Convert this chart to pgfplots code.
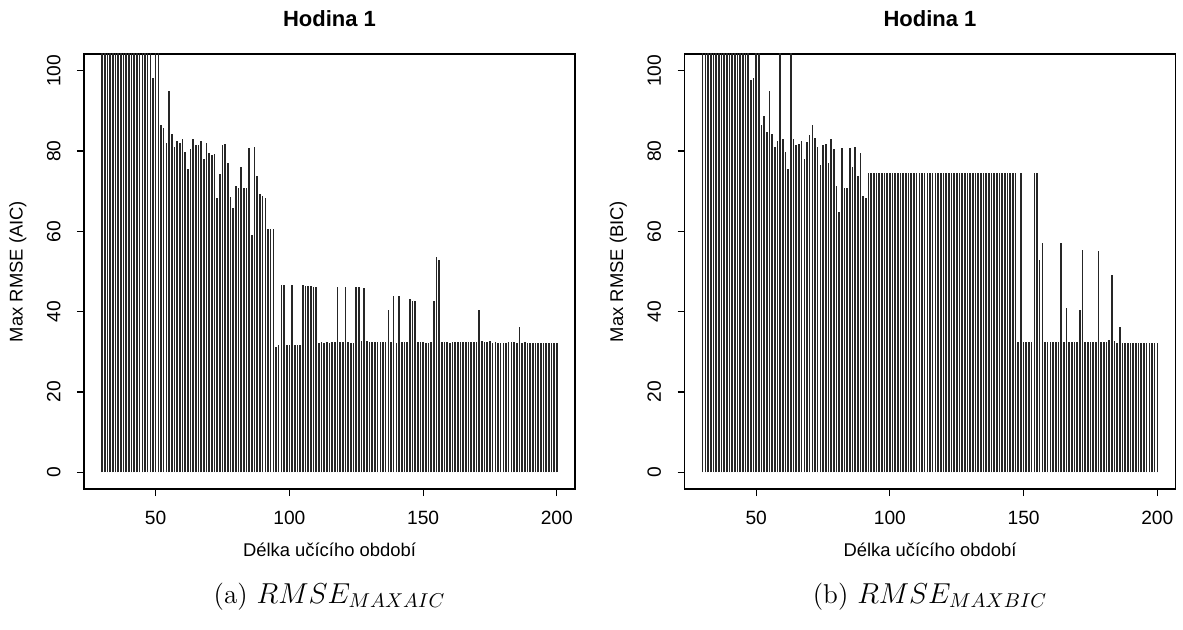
\documentclass[border=0pt]{standalone}
\usepackage{fontspec}
\usepackage{pgfplots}
\pgfplotsset{compat=1.18}
\usepackage{pgfplotstable}
\newfontfamily\arial{Liberation Sans}

\pgfplotstableread{
x aic bic
30 120 120
31 120 120
32 120 120
33 120 120
34 120 120
35 120 120
36 120 120
37 120 120
38 120 120
39 120 120
40 120 120
41 120 120
42 120 120
43 120 120
44 120 120
45 120 120
46 120 120
47 120 120
48 120 97.6
49 98.3 98.3
50 120 120
51 120 120
52 86.6 86.6
53 85.8 88.7
54 82.1 84.7
55 95.0 95.0
56 84.3 84.3
57 81.1 81.1
58 82.5 82.5
59 82.1 120
60 83.0 83.0
61 79.7 79.7
62 75.6 75.6
63 80.5 120
64 83.0 83.0
65 81.4 81.4
66 81.6 81.8
67 82.5 82.5
68 77.9 77.9
69 82.0 82.2
70 79.6 84.0
71 79.1 86.4
72 79.3 83.3
73 68.2 81.1
74 74.4 76.4
75 81.6 81.4
76 81.8 81.8
77 77.1 77.1
78 68.6 83.0
79 65.7 80.6
80 71.2 71.2
81 70.9 64.7
82 75.9 80.8
83 70.9 70.9
84 70.9 70.9
85 80.8 80.8
86 59.1 75.9
87 81.1 81.1
88 73.9 73.9
89 69.2 79.6
90 68.7 68.7
91 68.3 68.3
92 60.6 74.6
93 60.6 74.6
94 60.6 74.6
95 31.3 74.6
96 31.6 74.6
97 46.6 74.6
98 46.6 74.6
99 31.6 74.6
100 31.6 74.6
101 46.6 74.6
102 31.8 74.6
103 31.8 74.6
104 31.8 74.6
105 46.6 74.6
106 46.4 74.6
107 46.4 74.6
108 46.4 74.6
109 46.2 74.6
110 46.2 74.6
111 32.2 74.6
112 32.5 74.6
113 32.2 74.6
114 32.5 74.6
115 32.2 74.6
116 32.5 74.6
117 32.5 74.6
118 46.2 74.6
119 32.5 74.6
120 32.5 74.6
121 46.2 74.6
122 32.5 74.6
123 32.2 74.6
124 32.2 74.6
125 46.2 74.6
126 46.2 74.6
127 32.7 74.6
128 46.0 74.6
129 32.7 74.6
130 32.5 74.6
131 32.5 74.6
132 32.5 74.6
133 32.5 74.6
134 32.5 74.6
135 32.5 74.6
136 32.5 74.6
137 40.4 74.6
138 32.5 74.6
139 44.0 74.6
140 32.2 74.6
141 43.8 74.6
142 32.5 74.6
143 32.5 74.6
144 32.5 74.6
145 43.2 74.6
146 42.7 74.6
147 42.7 74.6
148 32.5 32.5
149 32.5 74.6
150 32.5 32.5
151 32.2 32.5
152 32.2 32.5
153 32.5 32.5
154 42.7 74.6
155 53.5 74.6
156 52.8 52.9
157 32.5 57.0
158 32.5 32.5
159 32.5 32.5
160 32.2 32.5
161 32.5 32.5
162 32.5 32.5
163 32.5 32.5
164 32.5 57.0
165 32.5 32.5
166 32.5 41.0
167 32.5 32.5
168 32.5 32.5
169 32.5 32.5
170 32.5 32.5
171 40.4 40.4
172 32.7 55.3
173 32.5 32.5
174 32.5 32.5
175 32.7 32.5
176 32.2 32.5
177 32.5 32.5
178 32.2 55.1
179 32.2 32.5
180 32.2 32.5
181 32.2 32.5
182 32.5 33.0
183 32.5 49.1
184 32.5 32.8
185 32.2 32.2
186 36.3 36.3
187 32.2 32.2
188 32.5 32.2
189 32.2 32.2
190 32.2 32.2
191 32.2 32.2
192 32.2 32.2
193 32.2 32.2
194 32.2 32.2
195 32.2 32.2
196 32.2 32.2
197 32.2 32.2
198 32.2 32.2
199 32.2 32.2
200 32.2 32.2
}\datatable

\pgfplotsset{
  rstyle/.style={
    scale only axis,
    width=245.5pt, height=217.5pt,
    xmin=23.2, xmax=206.8, ymin=-4.16, ymax=104.16,
    xtick={50,100,150,200}, ytick={0,20,40,60,80,100},
    tick align=outside,
    xtick pos=bottom, ytick pos=left,
    major tick length=3.5pt,
    axis line style={black, line width=0.6pt},
    tick style={black, line width=0.6pt},
    /pgf/number format/assume math mode=true,
    ticklabel style={font=\arial\fontsize{9.6}{11}\selectfont},
    xticklabel style={inner ysep=7.5pt},
    yticklabel style={rotate=90, anchor=south, inner ysep=8pt},
    label style={font=\arial\fontsize{9.2}{11}\selectfont},
    title style={font=\arial\bfseries\fontsize{11}{13}\selectfont, at={(0.5,1.0529)}, anchor=center},
    xlabel style={at={(0.5,-0.1402)}, anchor=center},
    ylabel style={at={(-0.1347,0.5)}, anchor=center},
    clip mode=individual,
  }
}

\begin{document}
\begin{tikzpicture}
\path[use as bounding box] (0pt,-315pt) rectangle (591.5pt,0pt);
\begin{axis}[rstyle, at={(42pt,-244.5pt)}, anchor=south west,
  title={Hodina 1}, xlabel={Délka učícího období}, ylabel={Max RMSE (AIC)}]
\addplot[ycomb, no marks, black!85, line width=0.8pt] table[x=x, y=aic] {\datatable};
\node[font=\fontsize{13.6}{16}\selectfont] at (axis description cs:0.5,-0.248) {(a) $RMSE_{MAXAIC}$};
\end{axis}
\begin{axis}[rstyle, at={(342.25pt,-244.5pt)}, anchor=south west,
  title={Hodina 1}, xlabel={Délka učícího období}, ylabel={Max RMSE (BIC)}]
\addplot[ycomb, no marks, black!85, line width=0.8pt] table[x=x, y=bic] {\datatable};
\node[font=\fontsize{13.6}{16}\selectfont] at (axis description cs:0.5,-0.248) {(b) $RMSE_{MAXBIC}$};
\end{axis}
\end{tikzpicture}
\end{document}
